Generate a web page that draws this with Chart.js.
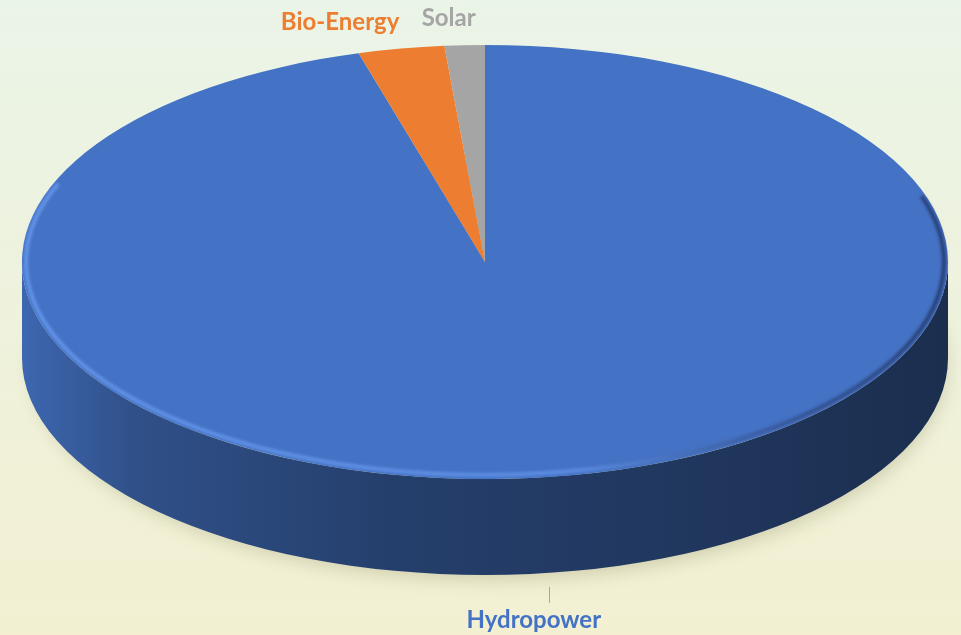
<!DOCTYPE html>
<html>
<head>
<meta charset="utf-8">
<script src="https://cdn.jsdelivr.net/npm/chart.js@4.4.0/dist/chart.umd.min.js"></script>
<style>
  html, body { margin: 0; padding: 0; background: #eef2dc; }
  #pie { display: block; }
</style>
</head>
<body>
<canvas id="pie" width="961" height="635"></canvas>
<script>
var labels = ['Hydropower', 'Bio-Energy', 'Solar'];
var shares = [95.6, 3.0, 1.4];
var colors = ['#4472c4', '#ed7d31', '#a5a5a5'];

// the flat pie gets squashed into this ellipse, then given a thickness
var view = { cx: 485, cy: 262, rx: 463, ry: 217, depth: 96 };
var labelNudge = { 'Hydropower': -15, 'Bio-Energy': -61, 'Solar': -16 };

function shade(hex, f) {
  var n = parseInt(hex.slice(1), 16);
  var r = Math.round(((n >> 16) & 255) * f), g = Math.round(((n >> 8) & 255) * f), b = Math.round((n & 255) * f);
  return 'rgb(' + r + ',' + g + ',' + b + ')';
}

function ellPoint(a, dy) {
  return { x: view.cx + view.rx * Math.cos(a), y: view.cy + view.ry * Math.sin(a) + (dy || 0) };
}

var tiltPlugin = {
  id: 'tilt',
  beforeDraw: function(chart) {
    var ctx = chart.ctx;
    var bg = ctx.createLinearGradient(0, 0, 0, chart.height);
    bg.addColorStop(0, '#eaf4e7');
    bg.addColorStop(1, '#f3f0d2');
    ctx.save();
    ctx.fillStyle = bg;
    ctx.fillRect(0, 0, chart.width, chart.height);
    ctx.restore();
  },
  beforeDatasetsDraw: function(chart) {
    var ctx = chart.ctx;
    var arcs = chart.getDatasetMeta(0).data;

    // soft shadow under the disc
    ctx.save();
    ctx.filter = 'blur(9px)';
    ctx.fillStyle = 'rgba(110,110,70,0.28)';
    ctx.beginPath();
    ctx.ellipse(view.cx + 4, view.cy + view.depth + 8, view.rx - 6, view.ry - 4, 0, 0, Math.PI * 2);
    ctx.fill();
    ctx.restore();

    // side walls, only the front half (0..PI) can be seen
    arcs.forEach(function(arc, i) {
      var p = arc.getProps(['startAngle', 'endAngle']);
      var a0 = Math.max(p.startAngle, 0), a1 = Math.min(p.endAngle, Math.PI);
      if (a1 <= a0) return;
      var g = ctx.createLinearGradient(view.cx - view.rx, 0, view.cx + view.rx, 0);
      g.addColorStop(0, shade(colors[i], 0.9));
      g.addColorStop(0.12, shade(colors[i], 0.7));
      g.addColorStop(0.4, shade(colors[i], 0.55));
      g.addColorStop(0.75, shade(colors[i], 0.47));
      g.addColorStop(1, shade(colors[i], 0.4));
      var b1 = ellPoint(a1, view.depth);
      ctx.save();
      ctx.beginPath();
      ctx.ellipse(view.cx, view.cy, view.rx, view.ry, 0, a0, a1);
      ctx.lineTo(b1.x, b1.y);
      ctx.ellipse(view.cx, view.cy + view.depth, view.rx, view.ry, 0, a1, a0, true);
      ctx.closePath();
      ctx.fillStyle = g;
      ctx.fill();
      ctx.restore();
    });

    // squash the library's own arcs into the top ellipse
    var first = arcs[0].getProps(['x', 'y', 'outerRadius']);
    ctx.save();
    ctx.translate(view.cx, view.cy);
    ctx.scale(view.rx / first.outerRadius, view.ry / first.outerRadius);
    ctx.translate(-first.x, -first.y);
  },
  afterDatasetsDraw: function(chart) {
    var ctx = chart.ctx;
    ctx.restore();

    // rim light along the front edge of the top
    var rim = ctx.createLinearGradient(view.cx - view.rx, 0, view.cx + view.rx, 0);
    rim.addColorStop(0, 'rgba(100,150,235,0.95)');
    rim.addColorStop(0.6, 'rgba(100,150,235,0.75)');
    rim.addColorStop(0.85, 'rgba(40,60,110,0.6)');
    rim.addColorStop(1, 'rgba(25,40,80,0.7)');
    ctx.save();
    ctx.filter = 'blur(1.5px)';
    ctx.strokeStyle = rim;
    ctx.lineWidth = 4;
    ctx.beginPath();
    ctx.ellipse(view.cx, view.cy, view.rx - 4, view.ry - 4, 0, -0.1 * Math.PI, 1.12 * Math.PI);
    ctx.stroke();
    ctx.restore();

    // data labels
    var arcs = chart.getDatasetMeta(0).data;
    ctx.save();
    ctx.font = 'bold 24px Lato, "Open Sans", sans-serif';
    ctx.textAlign = 'center';
    arcs.forEach(function(arc, i) {
      var p = arc.getProps(['startAngle', 'endAngle']);
      var mid = (p.startAngle + p.endAngle) / 2;
      var front = Math.sin(mid) > 0;
      var pt = ellPoint(mid, front ? view.depth : 0);
      var tx = pt.x + (labelNudge[labels[i]] || 0);
      ctx.fillStyle = colors[i];
      if (front) {
        ctx.strokeStyle = '#a6a6a6';
        ctx.lineWidth = 1;
        ctx.beginPath();
        ctx.moveTo(Math.round(pt.x) + 0.5, pt.y + 14);
        ctx.lineTo(Math.round(pt.x) + 0.5, pt.y + 30);
        ctx.stroke();
        ctx.fillText(labels[i], tx, pt.y + 55);
      } else {
        ctx.fillText(labels[i], tx, pt.y - 19);
      }
    });
    ctx.restore();
  }
};

new Chart(document.getElementById('pie'), {
  type: 'pie',
  data: {
    labels: labels,
    datasets: [{
      data: shares,
      backgroundColor: colors,
      borderWidth: 0,
      clip: false
    }]
  },
  options: {
    responsive: false,
    animation: false,
    events: [],
    plugins: {
      legend: { display: false },
      tooltip: { enabled: false }
    }
  },
  plugins: [tiltPlugin]
});
</script>
</body>
</html>
